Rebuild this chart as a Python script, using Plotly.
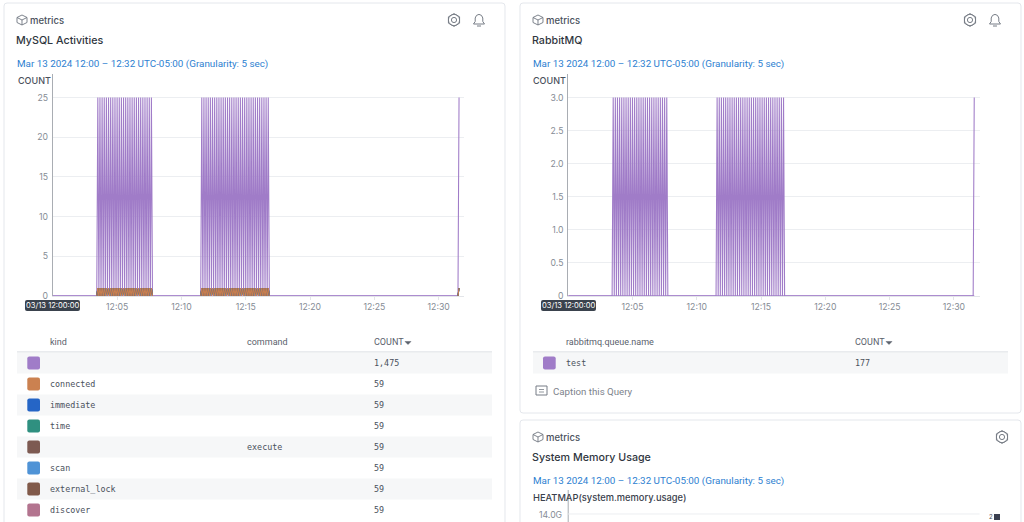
import plotly.graph_objects as go
from datetime import datetime, timedelta

# ---- data ----
SPIKE_SECONDS = [210, 220, 230, 240, 250, 260, 270, 280, 290, 300, 310, 320, 330,
                 340, 350, 360, 370, 380, 390, 400, 410, 420, 430, 440, 450, 460,
                 695, 705, 715, 725, 735, 745, 755, 765, 775, 785, 795, 805, 815,
                 825, 835, 845, 855, 865, 875, 885, 895, 905, 915, 925, 935, 945,
                 955, 965, 975, 985, 995, 1005, 1895]
MYSQL_MAIN_VALUE = 25
MYSQL_MINOR_VALUE = 1
RABBIT_VALUE = 3
MYSQL_TICKS = [0, 5, 10, 15, 20, 25]
RABBIT_TICKS = [0, 0.5, 1, 1.5, 2, 2.5, 3]
RABBIT_TICK_TEXT = ["0", "0.5", "1.0", "1.5", "2.0", "2.5", "3.0"]
TIME_TICKS = ["12:05", "12:10", "12:15", "12:20", "12:25", "12:30"]
KINDS = ["", "connected", "immediate", "time", "", "scan", "external_lock", "discover"]
COMMANDS = ["", "", "", "", "execute", "", "", ""]
COUNTS = ["1,475", "59", "59", "59", "59", "59", "59", "59"]
COLORS = ["#a07cc8", "#cb8150", "#2565c6", "#2f9080", "#7d5a52", "#4f93d6", "#815a4a", "#b3748f"]
RABBIT_QUEUES = ["test"]
RABBIT_COUNTS = ["177"]

W, H = 1024, 522
DAY = datetime(2024, 3, 13, 12, 0, 0)
T0, T1 = DAY, DAY + timedelta(minutes=32)


def fx(x):
    return x / W


def fy(y):
    return 1 - y / H


def series(spikes, value, baseline=True):
    xs, ys = ([DAY], [0]) if baseline else ([], [])
    prev = None
    for s in spikes:
        if not baseline and prev is not None and s - prev > 10:
            xs.append(DAY + timedelta(seconds=prev + 6))
            ys.append(None)
        xs += [DAY + timedelta(seconds=s - 5), DAY + timedelta(seconds=s), DAY + timedelta(seconds=s + 5)]
        ys += [0, value, 0]
        prev = s
    return xs[:-1], ys[:-1]


fig = go.Figure()
shapes, notes = [], []


def text(x, y, s, size=10, color="#3a414c", family="Inter", weight=400, anchor="left"):
    notes.append(dict(x=fx(x), y=fy(y + 0.5), xref="paper", yref="paper", text=s, showarrow=False,
                      xanchor=anchor, yanchor="middle", align=anchor, borderpad=0, borderwidth=0,
                      font=dict(size=size, color=color, family=family, weight=weight)))


def path(d_points, line="#6f7680", width=1, fill=None, close=False):
    d = "M " + " L ".join(f"{fx(a):.5f} {fy(b):.5f}" for a, b in d_points) + (" Z" if close else "")
    shapes.append(dict(type="path", xref="paper", yref="paper", path=d, layer="below",
                       line=dict(color=line, width=width), fillcolor=fill or "rgba(0,0,0,0)"))


def rect(x0, y0, x1, y1, fill=None, line=None, lw=0, layer="below", r=0):
    if r:
        k = r
        d = (f"M {fx(x0 + k):.5f} {fy(y0):.5f} L {fx(x1 - k):.5f} {fy(y0):.5f} "
             f"Q {fx(x1):.5f} {fy(y0):.5f} {fx(x1):.5f} {fy(y0 + k):.5f} "
             f"L {fx(x1):.5f} {fy(y1 - k):.5f} Q {fx(x1):.5f} {fy(y1):.5f} {fx(x1 - k):.5f} {fy(y1):.5f} "
             f"L {fx(x0 + k):.5f} {fy(y1):.5f} Q {fx(x0):.5f} {fy(y1):.5f} {fx(x0):.5f} {fy(y1 - k):.5f} "
             f"L {fx(x0):.5f} {fy(y0 + k):.5f} Q {fx(x0):.5f} {fy(y0):.5f} {fx(x0 + k):.5f} {fy(y0):.5f} Z")
        shapes.append(dict(type="path", xref="paper", yref="paper", path=d, layer=layer,
                           line=dict(color=line or "rgba(0,0,0,0)", width=lw),
                           fillcolor=fill or "rgba(0,0,0,0)"))
    else:
        shapes.append(dict(type="rect", xref="paper", yref="paper", x0=fx(x0), x1=fx(x1), y0=fy(y0), y1=fy(y1),
                           layer=layer, line=dict(color=line or "rgba(0,0,0,0)", width=lw),
                           fillcolor=fill or "rgba(0,0,0,0)"))


def circle(cx, cy, r, line="#6f7680", width=1):
    shapes.append(dict(type="circle", xref="paper", yref="paper", x0=fx(cx - r), x1=fx(cx + r),
                       y0=fy(cy - r), y1=fy(cy + r), layer="below",
                       line=dict(color=line, width=width), fillcolor="rgba(0,0,0,0)"))


def cube(cx, cy):
    r = 5
    path([(cx, cy - r), (cx + r, cy - r / 2), (cx + r, cy + r / 2), (cx, cy + r),
          (cx - r, cy + r / 2), (cx - r, cy - r / 2)], close=True, width=0.9)
    path([(cx - r, cy - r / 2), (cx, cy), (cx + r, cy - r / 2)], width=0.9)
    path([(cx, cy), (cx, cy + r)], width=0.9)


def gear(cx, cy):
    r = 6.4
    path([(cx, cy - r), (cx + r * 0.87, cy - r / 2), (cx + r * 0.87, cy + r / 2), (cx, cy + r),
          (cx - r * 0.87, cy + r / 2), (cx - r * 0.87, cy - r / 2)], close=True, line="#777d86", width=1)
    circle(cx, cy, 5.6, line="#777d86", width=0.9)
    circle(cx, cy, 2.6, line="#777d86", width=1)


def bell(cx, cy):
    path([(cx - 5.5, cy + 4), (cx - 3.8, cy + 1.5), (cx - 3.8, cy - 2), (cx - 2.5, cy - 4.6), (cx, cy - 5.6),
          (cx + 2.5, cy - 4.6), (cx + 3.8, cy - 2), (cx + 3.8, cy + 1.5), (cx + 5.5, cy + 4)],
         close=True, line="#777d86", width=1)
    path([(cx - 2, cy + 6), (cx + 2, cy + 6)], line="#777d86", width=1)


def panel_header(x_card, title, date_y, with_bell=True, cy_icon=20):
    cube(x_card + 18, cy_icon)
    text(x_card + 26, cy_icon, "metrics", size=9.5, color="#4a515c", weight=500)
    text(x_card + 12, cy_icon + 20, title, size=10.7, color="#2f3640", weight=500)
    text(x_card + 13, date_y, "Mar 13 2024 12:00 – 12:32 UTC-05:00 (Granularity: 5 sec)", size=9.85, color="#2e7fd1",
         family="Roboto")
    gear(x_card + 450, cy_icon) if with_bell else gear(x_card + 482, cy_icon)
    if with_bell:
        bell(x_card + 475, cy_icon)


def add_chart(index, spikes_traces, left, top, bottom, right, ymax_value_px, ticks, ticktext):
    """One time chart; y range follows from where the top tick sits in pixels."""
    top_tick = ticks[-1]
    per_px = top_tick / (bottom - ymax_value_px)
    xa, ya = f"xaxis{index}", f"yaxis{index}"
    fig.update_layout({
        xa: dict(domain=[fx(left), fx(right)], range=[T0, T1], type="date", anchor=f"y{index}",
                 tickvals=[DAY + timedelta(minutes=5 * (i + 1)) for i in range(len(TIME_TICKS))],
                 ticktext=TIME_TICKS, showgrid=False, showline=True, linecolor="#e3e5e9", linewidth=1,
                 ticks="outside", ticklen=3, tickcolor="#e3e5e9", layer="below traces",
                 tickfont=dict(size=8.7, color="#858b94", family="Inter"), zeroline=False),
        ya: dict(domain=[fy(bottom), fy(top)], range=[0, (bottom - top) * per_px], anchor=f"x{index}",
                 tickvals=ticks, ticktext=ticktext, showgrid=True, gridcolor="#eceef1", gridwidth=1,
                 tickfont=dict(size=8.7, color="#858b94", family="Inter"), zeroline=False, layer="below traces",
                 showline=True, linecolor="#a9adb3", linewidth=1, ticks="", ticklabelstandoff=2),
    })
    suffix = "" if index == 1 else str(index)
    for xs, ys, color, lw in spikes_traces:
        fig.add_trace(go.Scatter(x=xs, y=ys, mode="lines", line=dict(color=color, width=lw), hoverinfo="skip",
                                 showlegend=False, xaxis=f"x{suffix}", yaxis=f"y{suffix}", cliponaxis=False,
                                 connectgaps=False))


def time_pill(x0):
    rect(x0, 300, x0 + 55, 311, fill="#3a424d", r=2)
    text(x0 + 27.5, 305.4, "03/13 12:00:00", size=7.6, color="#ffffff", anchor="center")


def table_rule(x0, x1, y):
    path([(x0, y), (x1, y)], line="#d3d7dc", width=1)


def caret(x, y):
    path([(x, y - 1.5), (x + 6, y - 1.5), (x + 3, y + 1.5)], line="#5a616c", fill="#5a616c", close=True, width=0.5)


HEAD = dict(size=9, color="#5a616c", family="Roboto")
CELL = dict(size=8.4, color="#4a515c", family="DejaVu Sans Mono")

# ---- cards ----
rect(4, 3, 505, 540, fill="#ffffff", line="#e4e7ec", lw=1, r=3)
rect(520, 3, 1021, 413, fill="#ffffff", line="#e4e7ec", lw=1, r=3)
rect(520, 420, 1021, 540, fill="#ffffff", line="#e4e7ec", lw=1, r=3)

# ---- MySQL chart ----
panel_header(4, "MySQL Activities", 63)
text(18, 80, "COUNT", size=9, color="#4a515c", weight=500)
mysql_traces = [(*series(SPIKE_SECONDS, 0), COLORS[0], 1.4),
                (*series(SPIKE_SECONDS, MYSQL_MAIN_VALUE), COLORS[0], 1.08)]
for c in [COLORS[7], COLORS[6], COLORS[5], COLORS[3], COLORS[2], COLORS[4], COLORS[1]]:
    mysql_traces.append((*series(SPIKE_SECONDS, MYSQL_MINOR_VALUE, baseline=False), c, 1))
add_chart(1, mysql_traces, 52.8, 74, 296, 464.4, 97.5, MYSQL_TICKS, [str(v) for v in MYSQL_TICKS])
time_pill(25)

# ---- MySQL table ----
text(50, 341.5, "kind", **HEAD)
text(247, 341.5, "command", **HEAD)
text(374, 341.5, "COUNT", **HEAD)
caret(405, 343)
table_rule(17, 492, 352)
for i, (k, cmd, n, col) in enumerate(zip(KINDS, COMMANDS, COUNTS, COLORS)):
    y = 363 + 21 * i
    if i % 2 == 0:
        rect(17, y - 10.5, 492, y + 10.5, fill="#f6f7f8")
    rect(27.3, y - 6.5, 40, y + 6.5, fill=col, r=2)
    if k:
        text(50, y - 0.7, k, **CELL)
    if cmd:
        text(247, y - 0.7, cmd, **CELL)
    text(374, y - 0.7, n, **CELL)

# ---- RabbitMQ chart ----
panel_header(520, "RabbitMQ", 63)
text(533, 80, "COUNT", size=9, color="#4a515c", weight=500)
rabbit_traces = [(*series(SPIKE_SECONDS, 0), COLORS[0], 1.4),
                 (*series(SPIKE_SECONDS, RABBIT_VALUE), COLORS[0], 1.08)]
add_chart(2, rabbit_traces, 568.2, 74, 296, 979.6, 97.5, RABBIT_TICKS, RABBIT_TICK_TEXT)
time_pill(541)

# ---- RabbitMQ table ----
text(566, 341.5, "rabbitmq.queue.name", **HEAD)
text(855, 341.5, "COUNT", **HEAD)
caret(886, 343)
table_rule(533, 1008, 352)
for i, (q, n) in enumerate(zip(RABBIT_QUEUES, RABBIT_COUNTS)):
    y = 363 + 21 * i
    rect(533, y - 10.5, 1008, y + 10.5, fill="#f6f7f8")
    rect(543, y - 6.5, 555.7, y + 6.5, fill=COLORS[0], r=2)
    text(566, y - 0.7, q, **CELL)
    text(855, y - 0.7, n, **CELL)

# caption row
rect(536, 386, 547, 395, line="#777d86", lw=1)
path([(539, 389.5), (544, 389.5)], line="#777d86", width=0.8)
path([(539, 392), (544, 392)], line="#777d86", width=0.8)
text(553, 390.5, "Caption this Query", size=9.7, color="#7d838c", family="Roboto")

# ---- System memory card (cut off by the window) ----
panel_header(520, "System Memory Usage", 480, with_bell=False, cy_icon=437)
text(533, 497, "HEATMAP(system.memory.usage)", size=9.3, color="#3a414c", weight=500)
text(562, 514, "14.0G", size=8.7, color="#858b94", anchor="right")
path([(568.2, 490), (568.2, 522)], line="#a9adb3", width=1)
path([(568.2, 514), (979.6, 514)], line="#eceef1", width=1)
text(991, 515.5, "2", size=6, color="#4a515c", anchor="center")
rect(994, 514, 1000, 520, fill="#3a4050")

fig.update_layout(width=W, height=H, margin=dict(l=0, r=0, t=0, b=0, autoexpand=False), autosize=False,
                  paper_bgcolor="#ffffff", plot_bgcolor="rgba(0,0,0,0)", showlegend=False,
                  shapes=shapes, annotations=notes)
fig.write_html("out.html", config=dict(displayModeBar=False),
               post_script=("document.documentElement.style.cssText='margin:0;padding:0;height:522px;overflow:hidden';"
                            "document.body.style.cssText='margin:0;padding:0;height:522px;overflow:hidden;"
                            "line-height:0;font-size:0';"))
